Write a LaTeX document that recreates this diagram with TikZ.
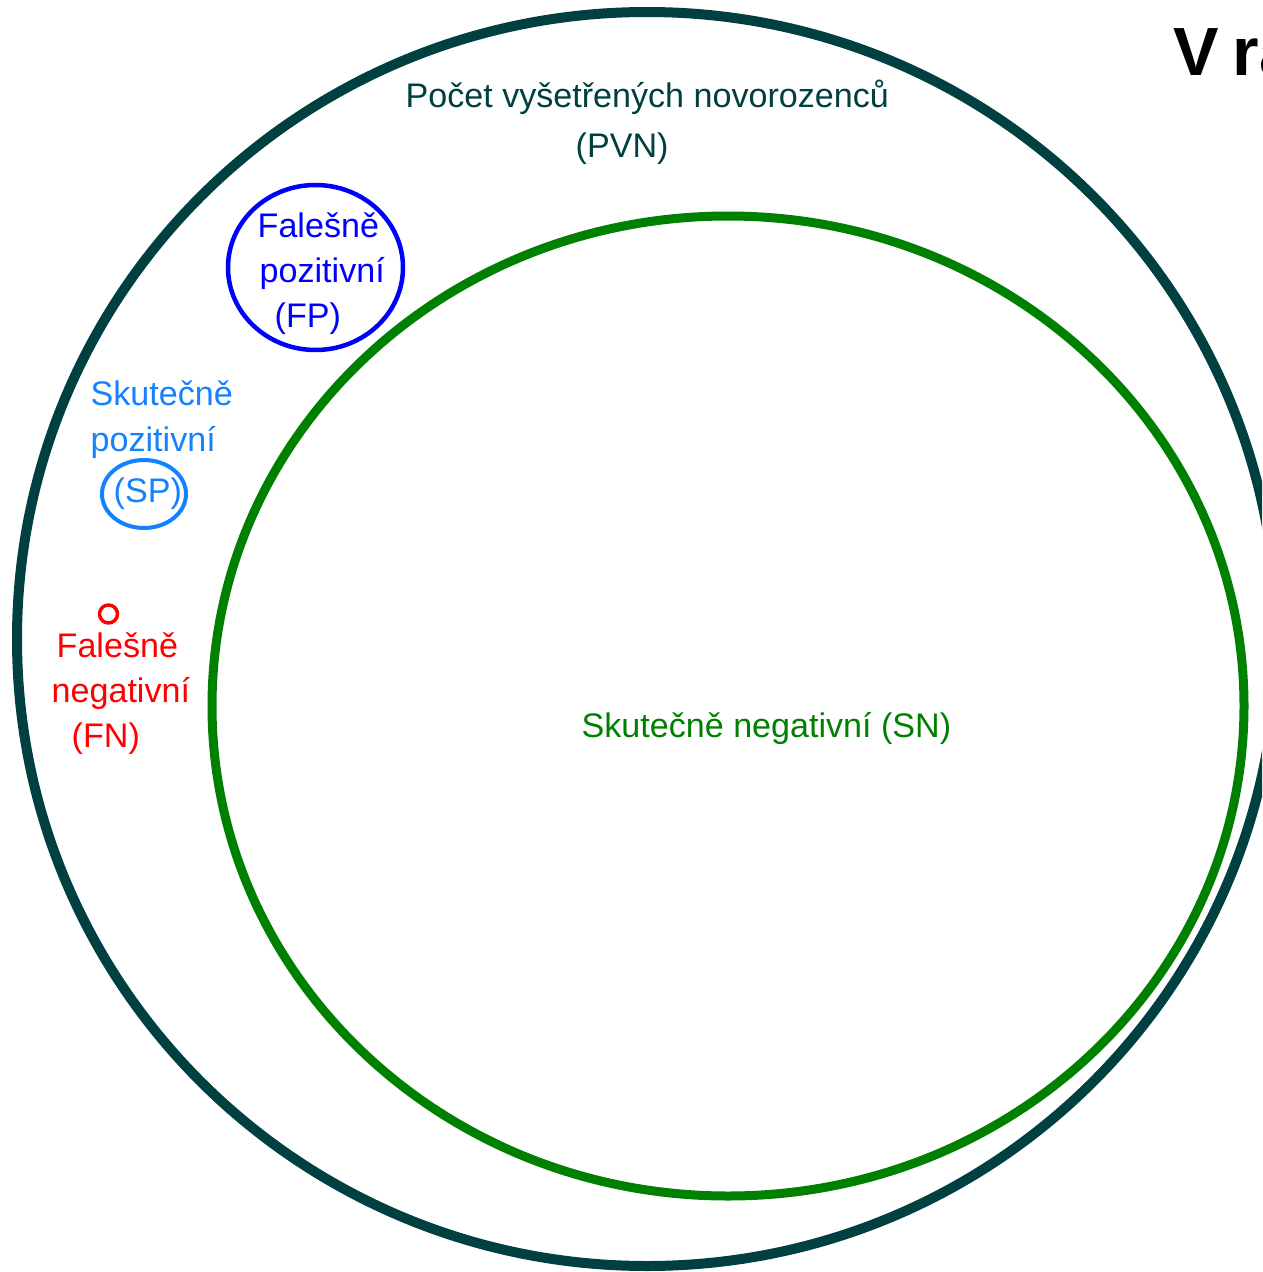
\documentclass[tikz,border=0pt]{standalone}
\usepackage{fontspec}
\setmainfont{Liberation Sans}
\definecolor{pvncol}{RGB}{0,64,64}
\definecolor{sncol}{RGB}{0,128,0}
\definecolor{fpcol}{RGB}{0,0,255}
\definecolor{spcol}{RGB}{20,130,255}
\definecolor{fncol}{RGB}{255,0,0}
\begin{document}
\begin{tikzpicture}[x=0.1mm,y=-0.1mm, line join=round, line cap=round,
    lbl/.style={inner sep=0pt, anchor=base west, font=\fontsize{9.7}{12}\selectfont}]
    \useasboundingbox (0,0) rectangle (1262,1272);
    \clip (0,0) rectangle (1262,1272);
    % Kruhy
    \coordinate (pvn) at (647,639);
    \coordinate (sn) at (728,706);
    \coordinate (fp) at (315.5,267.5);
    \coordinate (sp) at (144,494);
    \coordinate (fn) at (108.5,614);
    \draw[pvncol, line width=1mm] (pvn) ellipse [x radius=63mm, y radius=62.7mm];
    \draw[sncol, line width=0.9mm] (sn) ellipse [x radius=51.6mm, y radius=49mm];
    \draw[fpcol, line width=0.45mm] (fp) ellipse [x radius=8.75mm, y radius=8.25mm];
    \draw[spcol, line width=0.4mm] (sp) ellipse [x radius=4.2mm, y radius=3.4mm];
    \draw[fncol, line width=0.35mm] (fn) circle [radius=0.9mm];
    % Popisky
    \node[lbl, pvncol] (pvn1) at (405,108) {Počet vyšetřených novorozenců};
    \node[lbl, pvncol] (pvn2) at (575,158) {(PVN)};
    \node[lbl, fpcol] (fp1) at (257,238) {Falešně};
    \node[lbl, fpcol] (fp2) at (259,282) {pozitivní};
    \node[lbl, fpcol] (fp3) at (274,327) {(FP)};
    \node[lbl, spcol] (sp1) at (90,405) {Skutečně};
    \node[lbl, spcol] (sp2) at (90,451) {pozitivní};
    \node[lbl, spcol] (sp3) at (113,502) {(SP)};
    \node[lbl, fncol] (fn1) at (56,657) {Falešně};
    \node[lbl, fncol] (fn2) at (51,702) {negativní};
    \node[lbl, fncol] (fn3) at (71,747) {(FN)};
    \node[lbl, sncol] (sn1) at (581,737) {Skutečně negativní (SN)};
    \node[lbl, font=\fontsize{19.4}{23}\selectfont\bfseries] (title) at (1173,76) {V\hspace{0.2em}ra};
\end{tikzpicture}
\end{document}
